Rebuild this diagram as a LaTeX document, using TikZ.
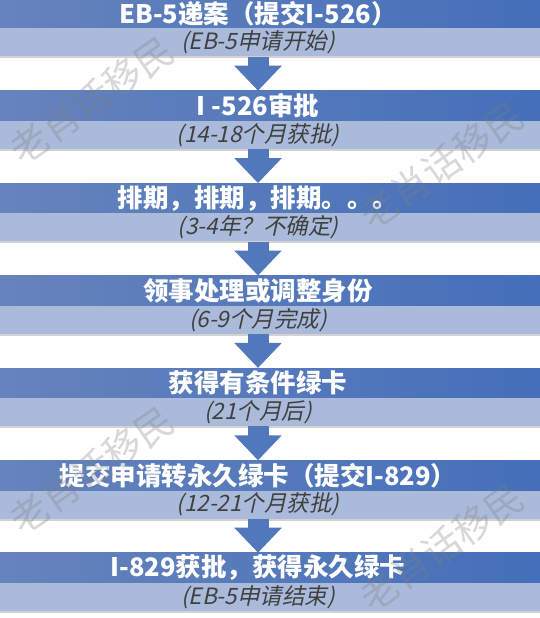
\documentclass[tikz,border=0pt]{standalone}
\usepackage{fontspec}
\newfontfamily\cjk{Noto Sans CJK SC}
\newfontfamily\cjksub[FakeSlant=0.22]{Noto Sans CJK SC}
\usetikzlibrary{arrows.meta,shadows}
\definecolor{barleft}{HTML}{6784BC}
\definecolor{barright}{HTML}{456FBA}
\definecolor{subblue}{HTML}{AABADB}
\definecolor{arrowblue}{HTML}{5178BA}
\tikzset{
  titlebar/.style={rectangle, left color=barleft, right color=barright,
    minimum width=564pt, minimum height=30pt, inner sep=0pt,
    text=white, font=\cjk\bfseries\fontsize{25.5}{25.5}\selectfont},
  subbar/.style={rectangle, fill=subblue, minimum width=564pt,
    minimum height=28pt, inner sep=0pt, text=black!75,
    font=\cjksub\fontsize{22.5}{22.5}\selectfont,
    drop shadow={shadow xshift=0pt, shadow yshift=-2pt, opacity=.35}},
  flow/.style={draw=arrowblue, line width=21pt,
    -{Triangle[width=46pt,length=25pt]}, arrowblue},
  mark stamp/.style={rotate=35, text=gray, opacity=.3,
    font=\cjk\fontsize{38}{38}\selectfont}
}
\begin{document}
\begin{tikzpicture}[x=1pt,y=-1pt]
  \useasboundingbox (0,0) rectangle (540,618);
  \fill[white] (0,0) rectangle (540,618);
  % steps
  \node (t1) at (258,13.5) [titlebar] {EB-5递案（提交I-526）};
  \node (s1) at (258,42.5) [subbar] {(EB-5申请开始)};
  \node (t2) at (258,105.9) [titlebar] {I -526审批};
  \node (s2) at (258,134.9) [subbar] {(14-18个月获批)};
  \node (t3) at (258,198.3) [titlebar] {排期，排期，排期。。。};
  \node (s3) at (258,227.3) [subbar] {(3-4年？不确定)};
  \node (t4) at (258,290.7) [titlebar] {领事处理或调整身份};
  \node (s4) at (258,319.7) [subbar] {(6-9个月完成)};
  \node (t5) at (258,383.1) [titlebar] {获得有条件绿卡};
  \node (s5) at (258,412.1) [subbar] {(21个月后)};
  \node (t6) at (258,475.5) [titlebar] {提交申请转永久绿卡（提交I-829）};
  \node (s6) at (258,504.5) [subbar] {(12-21个月获批)};
  \node (t7) at (258,567.9) [titlebar] {I-829获批，获得永久绿卡};
  \node (s7) at (258,596.9) [subbar] {(EB-5申请结束)};
  % arrows
  \foreach \i/\j in {1/2,2/3,3/4,4/5,5/6,6/7}
    \draw[flow] (s\i.south) -- (t\j.north);
  % watermarks
  \node (w1) at (92,100) [mark stamp] {老肖话移民};
  \node (w2) at (442,165) [mark stamp] {老肖话移民};
  \node (w3) at (92,470) [mark stamp] {老肖话移民};
  \node (w4) at (442,547) [mark stamp] {老肖话移民};
\end{tikzpicture}
\end{document}
